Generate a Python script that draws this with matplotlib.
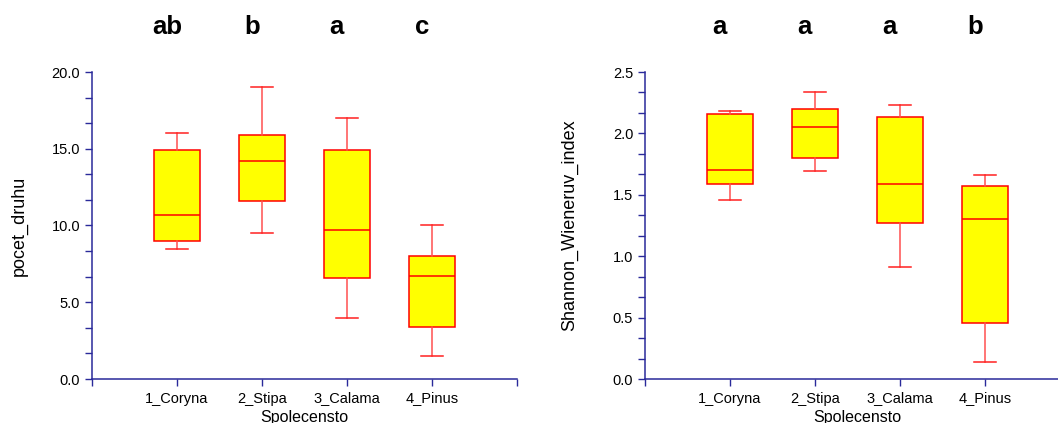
import matplotlib.pyplot as plt
from matplotlib.ticker import MultipleLocator, FixedLocator, FixedFormatter
from matplotlib.transforms import blended_transform_factory

plt.rcParams['font.family'] = ['Liberation Sans', 'DejaVu Sans']

groups = ['1_Coryna', '2_Stipa', '3_Calama', '4_Pinus']

# pocet_druhu: whisker low, q1, median, q3, whisker high
druhu_wlo = [8.5, 9.5, 4.0, 1.5]
druhu_q1 = [9.0, 11.6, 6.6, 3.4]
druhu_med = [10.7, 14.2, 9.7, 6.7]
druhu_q3 = [14.9, 15.9, 14.9, 8.0]
druhu_whi = [16.0, 19.0, 17.0, 10.0]
druhu_letters = ['ab', 'b', 'a', 'c']

# Shannon_Wieneruv_index
shannon_wlo = [1.46, 1.69, 0.91, 0.14]
shannon_q1 = [1.59, 1.80, 1.27, 0.46]
shannon_med = [1.70, 2.05, 1.59, 1.30]
shannon_q3 = [2.16, 2.20, 2.13, 1.57]
shannon_whi = [2.18, 2.34, 2.23, 1.66]
shannon_letters = ['a', 'a', 'a', 'b']

navy = '#2a2a9a'


def panel(ax, wlo, q1, med, q3, whi, letters, ylabel, ymax, ystep, ypad):
    stats = []
    for i in range(len(groups)):
        stats.append(dict(whislo=wlo[i], q1=q1[i], med=med[i], q3=q3[i],
                          whishi=whi[i], fliers=[], label=groups[i]))
    ax.bxp(stats, positions=[1, 2, 3, 4], widths=0.53, patch_artist=True,
           showfliers=False,
           boxprops=dict(facecolor='#ffff00', edgecolor='#ff0000', linewidth=1.1),
           medianprops=dict(color='#ff0000', linewidth=1.1),
           whiskerprops=dict(color='#ff5050', linewidth=1.1),
           capprops=dict(color='#ff2020', linewidth=1.1),
           capwidths=0.27)
    ax.set_xlim(0, 5)
    ax.set_ylim(0, ymax)
    ax.xaxis.set_major_locator(FixedLocator([0, 1, 2, 3, 4, 5]))
    ax.xaxis.set_major_formatter(FixedFormatter([''] + groups + ['']))
    ax.yaxis.set_major_locator(MultipleLocator(ystep))
    ax.yaxis.set_minor_locator(MultipleLocator(ystep / 3))
    ax.yaxis.set_major_formatter('{x:.1f}')
    for s in ['top', 'right']:
        ax.spines[s].set_visible(False)
    for s in ['left', 'bottom']:
        ax.spines[s].set_color(navy)
        ax.spines[s].set_linewidth(1.1)
    ax.tick_params(which='both', color=navy, labelcolor='black', labelsize=10.5,
                   length=5, width=1)
    ax.tick_params(axis='x', pad=4)
    ax.set_ylabel(ylabel, fontsize=13, labelpad=ypad)
    ax.set_xlabel('Spolecensto', fontsize=11.5, labelpad=3)
    tr = blended_transform_factory(ax.transData, ax.transAxes)
    for i, t in enumerate(letters):
        ax.text(i + 1 - 0.12, 1.146, t, transform=tr, ha='center', va='center',
                fontsize=18.5, fontweight='bold')


fig = plt.figure(figsize=(10.58, 4.23), dpi=100)
ax1 = fig.add_axes([92 / 1058, 44 / 423, 425 / 1058, 307 / 423])
ax2 = fig.add_axes([645 / 1058, 44 / 423, 425 / 1058, 307 / 423])

panel(ax1, druhu_wlo, druhu_q1, druhu_med, druhu_q3, druhu_whi,
      druhu_letters, 'pocet_druhu', 20, 5, 17)
panel(ax2, shannon_wlo, shannon_q1, shannon_med, shannon_q3, shannon_whi,
      shannon_letters, 'Shannon_Wieneruv_index', 2.5, 0.5, 25)

fig.savefig('out.png', dpi=100)
